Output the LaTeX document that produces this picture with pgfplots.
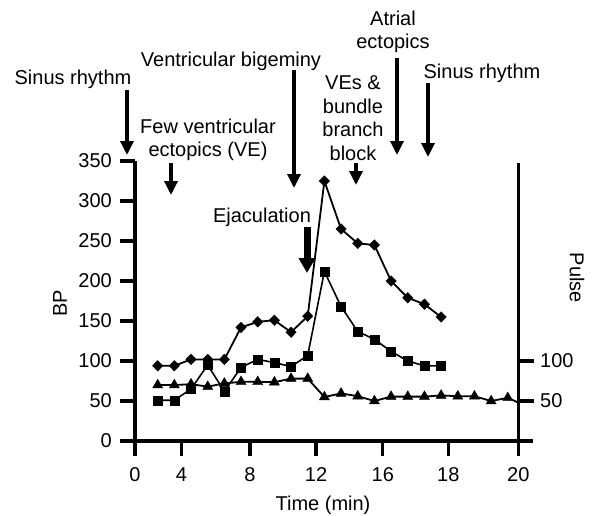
\documentclass[border=0pt]{standalone}
\usepackage{fontspec}
\setmainfont{Liberation Sans}
\usepackage{pgfplots}
\pgfplotsset{compat=1.18}
\usetikzlibrary{arrows.meta}

\newcommand{\bigfont}{\fontsize{20}{24}\selectfont}
\tikzset{
  ann/.style={line width=3.3pt, -{Triangle[width=13pt,length=14pt]}},
  lab/.style={font=\bigfont, anchor=base, inner sep=0pt},
}

\begin{document}
\begin{tikzpicture}
\begin{axis}[
  at={(0pt,0pt)}, anchor=south west,
  scale only axis, width=383.3pt, height=280pt,
  xmin=-0.36, xmax=22.63, ymin=0, ymax=350,
  axis x line=bottom, axis y line=left,
  axis line style={-, line width=3.3pt},
  tick align=outside, major tick length=15pt,
  xtick style={line width=3.3pt, black},
  ytick style={line width=3.3pt, black},
  xtick={-0.36,2.42,6.54,10.5,14.5,18.43,22.63},
  xticklabels={0,4,8,12,16,18,20},
  ytick={0,50,100,150,200,250,300,350},
  ticklabel style={font=\bigfont, inner sep=0pt},
  xticklabel style={anchor=base, yshift=-25.7pt},
  yticklabel style={anchor=east, xshift=-8pt},
  /pgf/number format/assume math mode=true,
  clip=false,
]
% systolic BP
\addplot[black, line width=1.8pt, mark=diamond*, mark size=5.3pt,
  mark options={solid, xscale=1.3, line width=0.4pt}] coordinates {
  (1,94) (2,94) (3,102) (4,102) (5,102) (6,142) (7,149) (8,151) (9,136)
  (10,156) (11,325) (12,265) (13,247) (14,245) (15,200) (16,179) (17,171) (18,155)};
% diastolic BP
\addplot[black, line width=1.6pt, mark=square*, mark size=4.5pt,
  mark options={solid, line width=0.4pt}] coordinates {
  (1,51) (2,51) (3,65) (4,95) (5,62) (6,92) (7,102) (8,98) (9,93)
  (10,107) (11,212) (12,168) (13,137) (14,127) (15,112) (16,100) (17,94) (18,94)};
% pulse
\addplot[black, line width=1.8pt, mark=triangle*, mark size=5.8pt,
  mark options={solid, line width=0.4pt}] coordinates {
  (1,70) (2,70) (3,71) (4,68) (5,72) (6,74) (7,74) (8,73.5) (9,78) (10,78)
  (11,55) (12,59.5) (13,56) (14,50) (15,55.5) (16,55.5) (17,55.5) (18,57)
  (19,56) (20,56) (21,50) (22,54)};
\addplot[black, line width=1.8pt, no marks] coordinates {(22,54) (22.63,48)};
\end{axis}

% right axis (Pulse)
\draw[line width=3.3pt] (383.3pt,0pt) -- (383.3pt,278pt);
\draw[line width=3.3pt] (383.3pt,0pt) -- (398pt,0pt);
\draw[line width=3.3pt] (383.3pt,80pt) -- (399.3pt,80pt);
\draw[line width=3.3pt] (383.3pt,40pt) -- (399.3pt,40pt);
\node[font=\bigfont, anchor=west, inner sep=0pt] at (405pt,80pt) {100};
\node[font=\bigfont, anchor=west, inner sep=0pt] at (405pt,40pt) {50};

% axis titles
\node[font=\bigfont, rotate=90] at (-75pt,138pt) {BP};
\node[font=\bigfont, rotate=-90] at (442pt,163pt) {Pulse};
\node[lab] at (188pt,-69pt) {Time (min)};

% annotations
\node[lab] at (-62pt,356pt) {Sinus rhythm};
\draw[ann] (-8pt,351pt) -- (-8pt,286pt);

\node[lab] at (73pt,307.7pt) {Few ventricular};
\node[lab] at (73pt,285pt) {ectopics (VE)};
\draw[ann] (36pt,278pt) -- (36pt,246pt);

\node[lab] at (96pt,374.3pt) {Ventricular bigeminy};
\draw[ann] (159pt,371pt) -- (159pt,253pt);

\node[lab] at (218pt,351pt) {VEs \&};
\node[lab] at (218pt,327.7pt) {bundle};
\node[lab] at (218pt,304.3pt) {branch};
\node[lab] at (218pt,281pt) {block};
\draw[ann] (221pt,278pt) -- (221pt,256pt);

\node[lab] at (258pt,415pt) {Atrial};
\node[lab] at (258pt,392.7pt) {ectopics};
\draw[ann] (262pt,383pt) -- (262pt,286pt);

\node[lab] at (347pt,362.7pt) {Sinus rhythm};
\draw[ann] (293pt,358pt) -- (293pt,284pt);

\node[lab] at (127pt,218.3pt) {Ejaculation};
\draw[line width=7pt, -{Triangle[width=16pt,length=15pt]}] (172pt,214pt) -- (172pt,168pt);
\path (-135pt,-74pt) rectangle (458pt,441pt);
\end{tikzpicture}
\end{document}
